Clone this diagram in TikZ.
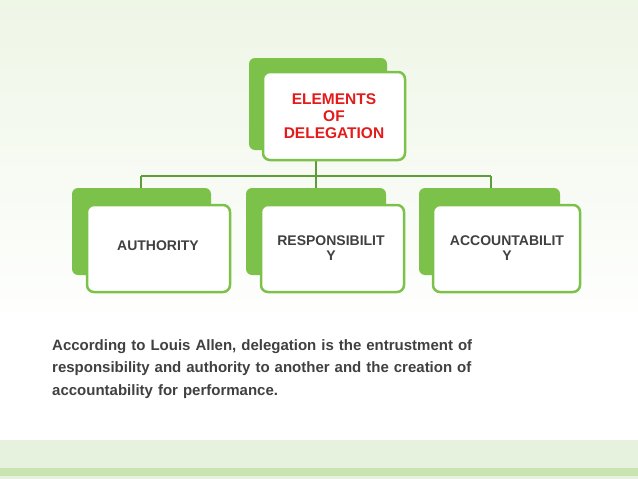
\documentclass[tikz,border=0pt]{standalone}
\usepackage{fontspec}
\setmainfont{Liberation Sans}
\definecolor{bgtop}{HTML}{EEF6E6}
\definecolor{gfill}{HTML}{7CC24A}
\definecolor{gline}{HTML}{5E9E3A}
\definecolor{band}{HTML}{E6F2DD}
\definecolor{strip}{HTML}{C8E4B0}
\definecolor{txt}{HTML}{404040}
\definecolor{redt}{HTML}{E31B1B}
\begin{document}
\begin{tikzpicture}[x=1pt,y=-1pt,
  back/.style={fill=gfill,rounded corners=6pt},
  front/.style={fill=white,draw=gfill,line width=2.5pt,rounded corners=7pt},
  conn/.style={draw=gline,line width=2.5pt},
  lbl/.style={font=\bfseries\fontsize{14}{15}\selectfont,text=txt,align=center}]
\useasboundingbox (0,0) rectangle (638,479);
\shade[top color=bgtop,bottom color=white] (0,0) rectangle (638,330);
\fill[band] (0,440) rectangle (638,468);
\fill[strip] (0,468) rectangle (638,476);
\fill[band] (0,476) rectangle (638,479);
% connectors
\coordinate (t) at (316,160);
\coordinate (j) at (316,176);
\coordinate (l) at (141,176);
\coordinate (r) at (491,176);
\coordinate (lb) at (141,189);
\coordinate (mb) at (316,189);
\coordinate (rb) at (491,189);
\draw[conn] (t) -- (j);
\draw[conn] (l) -- (r);
\draw[conn] (l) -- (lb);
\draw[conn] (j) -- (mb);
\draw[conn] (r) -- (rb);
% top
\fill[back] (249,58) rectangle (387,150);
\draw[front] (263,72) rectangle (405,160);
\node[font=\bfseries\fontsize{15.5}{17}\selectfont,text=redt,align=center] (top) at (334,116) {ELEMENTS\\OF\\DELEGATION};
% children
\fill[back] (72,188) rectangle (211,275);
\draw[front] (87,205) rectangle (230,292);
\node[lbl] (a) at (158,246) {AUTHORITY};
\fill[back] (246,188) rectangle (386,275);
\draw[front] (261,205) rectangle (404,292);
\node[lbl] (b) at (331,248) {RESPONSIBILIT\\Y};
\fill[back] (419,188) rectangle (560,275);
\draw[front] (433,205) rectangle (580,292);
\node[lbl] (c) at (507,248) {ACCOUNTABILIT\\Y};
% paragraph
\node[anchor=north west,inner sep=0pt,text width=536pt,align=left,text=txt,
  font=\bfseries\fontsize{15}{22.5}\selectfont] (p) at (52,339)
 {\makebox[536pt][s]{According to Louis Allen, delegation is the entrustment of}\\
  \makebox[536pt][s]{responsibility and authority to another and the creation of}\\
  accountability for performance.};
\end{tikzpicture}
\end{document}
